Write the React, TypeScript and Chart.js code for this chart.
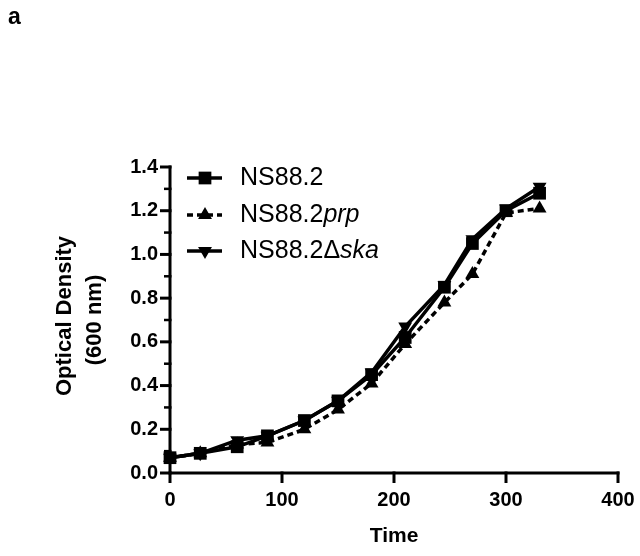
import React, { useEffect, useRef } from "react";
import { Chart, registerables } from "chart.js";

Chart.register(...registerables);

const times = [0, 27, 60, 87, 120, 150, 180, 210, 245, 270, 300, 330];
const ns882 = [0.07, 0.09, 0.12, 0.17, 0.24, 0.33, 0.45, 0.62, 0.85, 1.05, 1.2, 1.28];
const ns882prp = [0.07, 0.09, 0.13, 0.14, 0.2, 0.29, 0.41, 0.59, 0.78, 0.91, 1.19, 1.21];
const ns882ska = [0.07, 0.09, 0.15, 0.17, 0.24, 0.33, 0.46, 0.67, 0.86, 1.07, 1.21, 1.31];

const seriesNames = ["NS88.2", "NS88.2", "NS88.2\u0394"];
const seriesItalic = ["", "prp", "ska"];
const yTitleLines = ["Optical Density", "(600 nm)"];
const xTitle = "Time";
const panelLabel = "a";

const FONT = "'Liberation Sans', Arial, sans-serif";

const overlayPlugin = {
  id: "overlay",
  afterDraw(chart: any) {
    const ctx = chart.ctx as CanvasRenderingContext2D;
    const xs = chart.scales.x;
    const ys = chart.scales.y;
    const { left, right, top, bottom } = chart.chartArea;
    ctx.save();
    ctx.strokeStyle = "#000";
    ctx.fillStyle = "#000";
    ctx.lineWidth = 3;
    ctx.lineCap = "butt";
    // axes
    ctx.beginPath();
    ctx.moveTo(left, top - 1.5);
    ctx.lineTo(left, bottom + 1.5);
    ctx.moveTo(left - 1.5, bottom);
    ctx.lineTo(right + 1.5, bottom);
    ctx.stroke();
    // y ticks (major + minor)
    for (let i = 0; i <= 14; i++) {
      const v = i / 10;
      const py = ys.getPixelForValue(v);
      const len = i % 2 === 0 ? 10 : 6;
      ctx.lineWidth = i % 2 === 0 ? 3 : 2.5;
      ctx.beginPath();
      ctx.moveTo(left + 1.5, py);
      ctx.lineTo(left - len, py);
      ctx.stroke();
    }
    // x ticks
    ctx.lineWidth = 3;
    for (let v = 0; v <= 400; v += 100) {
      const px = xs.getPixelForValue(v);
      ctx.beginPath();
      ctx.moveTo(px, bottom - 1.5);
      ctx.lineTo(px, bottom + 10);
      ctx.stroke();
    }
    // axis titles
    ctx.textAlign = "center";
    ctx.textBaseline = "alphabetic";
    ctx.font = `bold 21px ${FONT}`;
    ctx.fillText(xTitle, (left + right) / 2, 542);
    const cy = (top + bottom) / 2;
    ctx.save();
    ctx.translate(71, cy - 4);
    ctx.rotate(-Math.PI / 2);
    ctx.font = `bold 22px ${FONT}`;
    ctx.fillText(yTitleLines[0], 0, 0);
    ctx.restore();
    ctx.save();
    ctx.translate(101, cy);
    ctx.rotate(-Math.PI / 2);
    ctx.font = `bold 22px ${FONT}`;
    ctx.fillText(yTitleLines[1], 0, 0);
    ctx.restore();
    // panel label
    ctx.textAlign = "left";
    ctx.font = `bold 23px ${FONT}`;
    ctx.fillText(panelLabel, 8, 24);
    // legend
    const rowY = [178, 215, 251];
    chart.data.datasets.forEach((ds: any, i: number) => {
      const y = rowY[i];
      ctx.save();
      ctx.lineWidth = 3.5;
      ctx.strokeStyle = "#000";
      ctx.setLineDash(ds.borderDash || []);
      ctx.beginPath();
      ctx.moveTo(187, y);
      ctx.lineTo(222, y);
      ctx.stroke();
      ctx.setLineDash([]);
      ctx.restore();
      // marker
      ctx.beginPath();
      const cx = 205;
      if (ds.pointStyle === "rect") {
        const s = ds.pointRadius * Math.SQRT1_2;
        ctx.rect(cx - s, y - s, 2 * s, 2 * s);
      } else {
        const r = ds.pointRadius;
        const sgn = ds.pointRotation === 180 ? -1 : 1;
        ctx.moveTo(cx, y - sgn * r);
        ctx.lineTo(cx + r * 0.866, y + sgn * r * 0.5);
        ctx.lineTo(cx - r * 0.866, y + sgn * r * 0.5);
        ctx.closePath();
      }
      ctx.fill();
      // text
      ctx.textBaseline = "middle";
      ctx.font = `25px ${FONT}`;
      ctx.fillText(seriesNames[i], 240, y);
      const w = ctx.measureText(seriesNames[i]).width;
      if (seriesItalic[i]) {
        ctx.font = `italic 25px ${FONT}`;
        ctx.fillText(seriesItalic[i], 240 + w, y);
      }
    });
    ctx.restore();
  },
};

function toPoints(vals: number[]) {
  return times.map((t, i) => ({ x: t, y: vals[i] }));
}

export default function App() {
  const ref = useRef<HTMLCanvasElement>(null);
  useEffect(() => {
    if (!ref.current) return;
    const common = {
      borderColor: "#000",
      backgroundColor: "#000",
      pointBackgroundColor: "#000",
      pointBorderColor: "#000",
      pointBorderWidth: 0,
      borderWidth: 3.5,
      tension: 0,
      clip: false as any,
    };
    const chart = new Chart(ref.current, {
      type: "line",
      data: {
        datasets: [
          { ...common, label: "NS88.2", data: toPoints(ns882), pointStyle: "rect", pointRadius: 9 },
          {
            ...common,
            label: "NS88.2prp",
            data: toPoints(ns882prp),
            pointStyle: "triangle",
            pointRadius: 8,
            borderDash: [6, 4],
          },
          {
            ...common,
            label: "NS88.2ska",
            data: toPoints(ns882ska),
            pointStyle: "triangle",
            pointRotation: 180,
            pointRadius: 8,
          },
        ] as any,
      },
      options: {
        animation: false,
        responsive: false,
        layout: { padding: { top: 167, right: 22, bottom: 0, left: 0 } },
        plugins: { legend: { display: false }, tooltip: { enabled: false } },
        scales: {
          x: {
            type: "linear",
            min: 0,
            max: 400,
            grid: { display: false, drawTicks: false },
            border: { display: false },
            afterFit: (s: any) => {
              s.height = 83;
              s.paddingLeft = 0;
              s.paddingRight = 0;
            },
            ticks: {
              stepSize: 100,
              padding: 15,
              color: "#000",
              font: { family: FONT, size: 20, weight: "bold" },
            },
          },
          y: {
            min: 0,
            max: 1.4,
            grid: { display: false, drawTicks: false },
            border: { display: false },
            afterFit: (s: any) => {
              s.width = 170;
              s.paddingTop = 0;
              s.paddingBottom = 0;
            },
            ticks: {
              stepSize: 0.2,
              padding: 12,
              color: "#000",
              font: { family: FONT, size: 20, weight: "bold" },
              callback: (v: any) => Number(v).toFixed(1),
            },
          },
        },
      } as any,
      plugins: [overlayPlugin],
    });
    return () => chart.destroy();
  }, []);
  return (
    <canvas
      ref={ref}
      width={640}
      height={556}
      style={{ position: "absolute", left: 0, top: 0, width: 640, height: 556, background: "#fff" }}
    />
  );
}
